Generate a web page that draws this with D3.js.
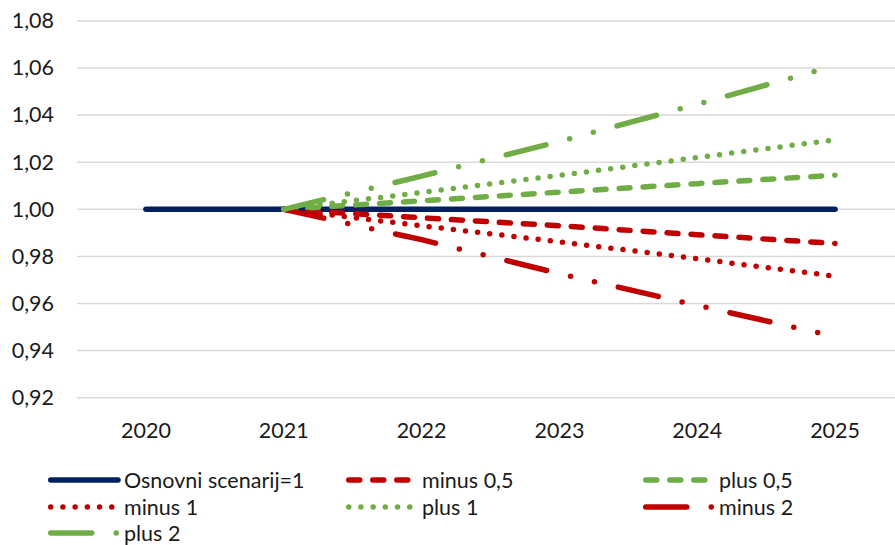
<!DOCTYPE html>
<html>
<head>
<meta charset="utf-8">
<script src="https://cdn.jsdelivr.net/npm/d3@7"></script>
<style>
  html, body { margin: 0; padding: 0; background: #fff; }
  svg { display: block; }
  text { font-family: Lato, "Liberation Sans", sans-serif; fill: #1a1a1a; }
</style>
</head>
<body>
<svg id="chart" width="895" height="545"></svg>
<script>
// Years on the category axis
const years = ["2020", "2021", "2022", "2023", "2024", "2025"];

// Index of real values relative to the baseline scenario (null = no value)
const osnovni  = [1, 1, 1, 1, 1, 1];
const minus05  = [null, 1, 0.9964, 0.9930, 0.9892, 0.9855];
const plus05   = [null, 1, 1.0036, 1.0073, 1.0109, 1.0145];
const minus1   = [null, 1, 0.9930, 0.9862, 0.9790, 0.9716];
const plus1    = [null, 1, 1.0072, 1.0144, 1.0220, 1.0295];
const minus2   = [null, 1, 0.9871, 0.9727, 0.9592, 0.9460];
const plus2    = [null, 1, 1.0141, 1.0288, 1.0446, 1.0610];

// Value axis ticks
const yTicks = [0.92, 0.94, 0.96, 0.98, 1.00, 1.02, 1.04, 1.06, 1.08];

const NAVY = "#002060", RED = "#C00000", GREEN = "#70AD47";
const W = 5.5;
const FONT = 21.5;
const DASH = "11,13";
const DOT = "0,12.2";
const LGDASHDOTDOT = "41,24.5,0,24.5,0,24.5";

const series = [
  { name: "Osnovni scenarij=1", values: osnovni, color: NAVY,  dash: null },
  { name: "minus 0,5",          values: minus05, color: RED,   dash: DASH },
  { name: "plus 0,5",           values: plus05,  color: GREEN, dash: DASH },
  { name: "minus 1",            values: minus1,  color: RED,   dash: DOT },
  { name: "plus 1",             values: plus1,   color: GREEN, dash: DOT },
  { name: "minus 2",            values: minus2,  color: RED,   dash: LGDASHDOTDOT },
  { name: "plus 2",             values: plus2,   color: GREEN, dash: LGDASHDOTDOT }
];

const svg = d3.select("#chart");
const plotLeft = 77, plotRight = 904, plotTop = 20.9, plotBottom = 397.7;

const x = d3.scaleBand().domain(years).range([plotLeft, plotRight]);
const y = d3.scaleLinear().domain([0.92, 1.08]).range([plotBottom, plotTop]);
const fmt = v => d3.format(".2f")(v).replace(".", ",");

// Horizontal gridlines
svg.append("g")
  .selectAll("line")
  .data(yTicks)
  .join("line")
  .attr("x1", plotLeft).attr("x2", 895)
  .attr("y1", d => y(d)).attr("y2", d => y(d))
  .attr("stroke", "#d9d9d9").attr("stroke-width", 1.5);

// Value axis labels
const yAxis = svg.append("g")
  .attr("transform", `translate(${plotLeft - 23},0)`)
  .call(d3.axisLeft(y).tickValues(yTicks).tickFormat(fmt).tickSize(0).tickPadding(0));
yAxis.select(".domain").remove();
yAxis.selectAll("text").attr("font-size", FONT).style("font-family", "Lato, 'Liberation Sans', sans-serif").attr("fill", "#1a1a1a");

// Category axis labels
const xAxis = svg.append("g")
  .attr("transform", `translate(0,430)`)
  .call(d3.axisBottom(x).tickSize(0).tickPadding(0));
xAxis.select(".domain").remove();
xAxis.selectAll("text").attr("font-size", FONT).attr("y", 0).attr("dy", "0.35em").style("font-family", "Lato, 'Liberation Sans', sans-serif").attr("fill", "#1a1a1a");

// Scenario lines
const line = d3.line()
  .defined(d => d.v !== null)
  .x(d => x(d.year) + x.bandwidth() / 2)
  .y(d => y(d.v));

svg.append("g")
  .selectAll("path")
  .data(series)
  .join("path")
  .attr("d", s => line(s.values.map((v, i) => ({ year: years[i], v }))))
  .attr("fill", "none")
  .attr("stroke", s => s.color)
  .attr("stroke-width", W)
  .attr("stroke-linecap", "round")
  .attr("stroke-linejoin", "round")
  .attr("stroke-dasharray", s => s.dash);

// Legend: three columns, filled row by row
const colX = [48, 346, 643];
const rowY = [480, 507, 533];
const legend = svg.append("g");
series.forEach((s, i) => {
  const cx = colX[i % 3], cy = rowY[Math.floor(i / 3)];
  const g = legend.append("g").attr("transform", `translate(${cx},${cy})`);
  g.append("line")
    .attr("x1", W / 2).attr("x2", 70)
    .attr("y1", 0).attr("y2", 0)
    .attr("stroke", s.color).attr("stroke-width", W)
    .attr("stroke-linecap", "round")
    .attr("stroke-dasharray", s.dash);
  g.append("text")
    .attr("x", 76).attr("y", 0)
    .attr("dy", "0.35em")
    .attr("font-size", FONT)
    .text(s.name);
});
</script>
</body>
</html>
